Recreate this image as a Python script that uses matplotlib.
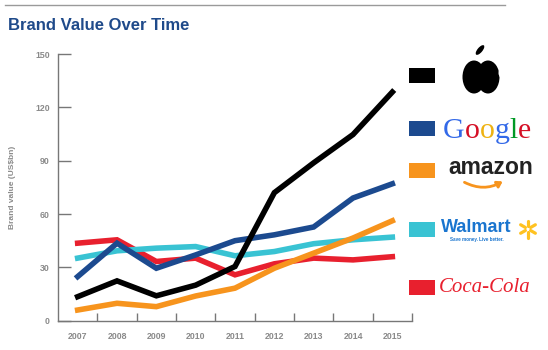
import matplotlib
matplotlib.use('Agg')
import matplotlib.pyplot as plt
from matplotlib.patches import Rectangle, Ellipse, Circle, FancyArrowPatch
import numpy as np

# Data (US$bn)
years = [2007, 2008, 2009, 2010, 2011, 2012, 2013, 2014, 2015]
apple = [13.5, 22.4, 14.0, 20.0, 30.5, 72.0, 88.8, 104.7, 128.6]
google = [24.8, 43.6, 29.5, 37.0, 45.0, 48.3, 52.7, 69.0, 77.0]
amazon = [6.0, 9.8, 7.9, 13.9, 18.3, 29.5, 38.0, 46.5, 56.2]
walmart = [35.2, 39.3, 40.8, 41.7, 36.5, 38.9, 43.3, 45.5, 47.0]
cocacola = [43.6, 45.5, 33.3, 35.2, 25.8, 32.0, 35.2, 34.2, 36.0]
y_ticks = [0, 30, 60, 90, 120, 150]

c_black = '#000000'
c_blue = '#1c4a8f'
c_orange = '#f7941d'
c_cyan = '#39c3d3'
c_red = '#e8202e'
c_grey = '#8a8a8a'

plt.rcParams['font.family'] = ['Liberation Sans', 'DejaVu Sans']

W, H = 548, 350
fig = plt.figure(figsize=(W / 100, H / 100), dpi=100)

# Overlay in pixel coordinates for title, rule and brand legend
ov = fig.add_axes([0, 0, 1, 1])
ov.set_xlim(0, W)
ov.set_ylim(H, 0)
ov.set_axis_off()

ov.plot([5, 505], [5, 5], color='#9a9a9a', lw=1)
ov.text(8, 26, 'Brand Value Over Time', color='#1f4a8a', fontsize=12,
        fontweight='bold', va='center', ha='left')

# legend swatches
for yc, col in [(75, c_black), (128, c_blue), (170, c_orange),
                (229, c_cyan), (287, c_red)]:
    ov.add_patch(Rectangle((409, yc - 7.5), 26, 15, color=col, lw=0))

# Apple logo (drawn shape)
ov.add_patch(Ellipse((474, 77), 23, 33, color='black', lw=0))
ov.add_patch(Ellipse((488, 77), 23, 33, color='black', lw=0))
ov.add_patch(Circle((481, 59), 2.5, color='white', lw=0))
ov.add_patch(Circle((481, 95), 3, color='white', lw=0))
ov.add_patch(Circle((505, 73), 6.5, color='white', lw=0))
ov.add_patch(Ellipse((480, 50), 5, 12, angle=40, color='black', lw=0))

# Google
gx = 443
for ch, col in zip('Google', ['#3369e8', '#d50f25', '#eeb211', '#3369e8',
                               '#009925', '#d50f25']):
    t = ov.text(gx, 131, ch, color=col, fontsize=21.5, family='Liberation Serif',
                va='center', ha='left')
    fig.canvas.draw()
    bb = t.get_window_extent()
    gx += bb.width

# amazon
ov.text(491, 168, 'amazon', color='#222222', fontsize=16.5, fontweight='bold',
        va='center', ha='center')
ov.add_patch(FancyArrowPatch((462, 181), (505, 180),
                             connectionstyle='arc3,rad=0.3',
                             arrowstyle='-|>,head_length=3,head_width=2',
                             color=c_orange, lw=2))

# Walmart
ov.text(441, 228, 'Walmart', color='#1a75cf', fontsize=13, fontweight='bold',
        va='center', ha='left')
ov.text(477, 239.5, 'Save money. Live better.', color='#1a75cf', fontsize=3.3,
        fontweight='bold', va='center', ha='center')
for ang in [90, 30, -30, -90, -150, 150]:
    a = np.deg2rad(ang)
    ov.plot([528 + 3 * np.cos(a), 528 + 8.5 * np.cos(a)],
            [229 - 3 * np.sin(a), 229 - 8.5 * np.sin(a)],
            color='#ffc220', lw=2.3, solid_capstyle='round')

# Coca-Cola
ov.text(485, 288, 'Coca-Cola', color=c_red, fontsize=15,
        family='Liberation Serif', style='italic', va='center', ha='center')

# Main chart
ax = fig.add_axes([58 / W, 1 - 320.7 / H, (412 - 58) / W, (320.7 - 54) / H])
ax.patch.set_alpha(0)
lw = 4
ax.plot(years, cocacola, color=c_red, lw=lw, solid_joinstyle='miter')
ax.plot(years, walmart, color=c_cyan, lw=lw, solid_joinstyle='miter')
ax.plot(years, amazon, color=c_orange, lw=lw, solid_joinstyle='miter')
ax.plot(years, google, color=c_blue, lw=lw, solid_joinstyle='miter')
ax.plot(years, apple, color=c_black, lw=lw, solid_joinstyle='miter')

ax.set_xlim(2006.5, 2015.5)
ax.set_ylim(0, 150)
ax.set_yticks(y_ticks)
ax.set_xticks(years)
ax.set_xticks(np.arange(2007.5, 2016, 1), minor=True)
ax.tick_params(axis='x', which='major', length=0, pad=8)
ax.tick_params(axis='x', which='minor', direction='in', length=6,
               color='#777777', width=1)
ax.tick_params(axis='y', direction='in', length=9, color='#777777', width=1,
               pad=6)
for lab in ax.get_xticklabels() + ax.get_yticklabels():
    lab.set_color(c_grey)
    lab.set_fontsize(6.3)
    lab.set_fontweight('bold')
for s in ['top', 'right']:
    ax.spines[s].set_visible(False)
for s in ['left', 'bottom']:
    ax.spines[s].set_color('#777777')
    ax.spines[s].set_linewidth(1)
ax.set_ylabel('Brand value (US$bn)', color=c_grey, fontsize=6,
              fontweight='bold', labelpad=14)

fig.savefig('out.png', dpi=100)
